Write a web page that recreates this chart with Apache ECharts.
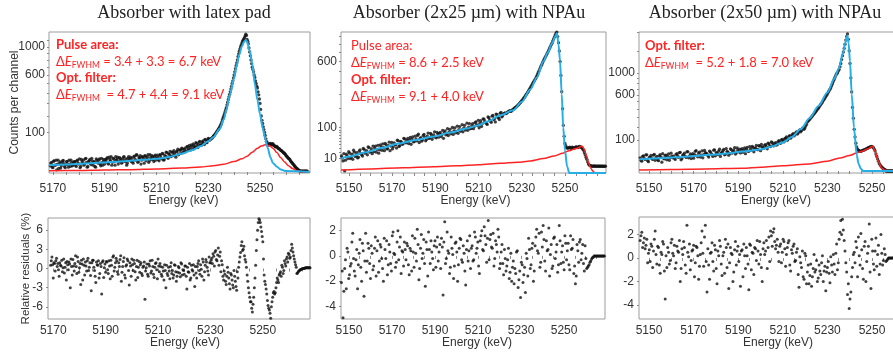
<!DOCTYPE html>
<html><head><meta charset="utf-8">
<script src="https://cdn.jsdelivr.net/npm/echarts@6/dist/echarts.min.js"></script>
<style>html,body{margin:0;padding:0;background:#fff}#c{width:893px;height:354px}</style>
</head><body><div id="c"></div>
<script>
// ---------- texts ----------
const panelTitles = ['Absorber with latex pad', 'Absorber (2x25 µm) with NPAu', 'Absorber (2x50 µm) with NPAu'];
const xLabelsP1 = [5170, 5190, 5210, 5230, 5250];
const xLabelsP2 = [5150, 5170, 5190, 5210, 5230, 5250];
const xLabelsP3 = [5150, 5170, 5190, 5210, 5230, 5250];
const yLabelsP1 = [100, 600, 1000];
const yLabelsP2 = [10, 100, 600];
const yLabelsP3 = [100, 600, 1000];
const yLabelsR1 = [-6, -3, 0, 3, 6];
const yLabelsR2 = [-4, -2, 0, 2];
const yLabelsR3 = [-4, -2, 0, 2];

// ---------- panel 1 : latex pad (channels from 5169 keV and 5169.25 keV, 0.5 keV apart) ----------
const p1E0 = 5169, p1Step = 0.5;
const p1Counts = [
2.5,6,1.2,8,3,0.3,9,4.5,1,5.5,8.5,2,3.5,7,1.5,4,9,2.5,6,
7,2,9,4,1.2,10,5,3,11,6,2,8,4.5,12,3,7,1.5,9,5,11,2.5,6,10,4,
8,13,4,10,15,6,11,3,9,14,7,12,5,10,15,7,3,12,9,14,
12,5,16,9,18,7,13,4,15,11,17,8,14,6,19,10,15,7,18,12,
14,8,18,11,21,10,16,24,12,20,15,26,17,23,14,28,19,31,22,34,
24,36,28,42,30,38,47,33,44,40,52,38,57,46,50,62,48,66,55,72,
64,70,74,82,88,98,108,118,130,148,175,200,230,265,310,360,410,470,530,600,
680,760,850,930,1000,1060,1110,1150,1210,1120,
1050,920,800,700,640,570,500,450,380,300,
200,150,115,85,60,50,48,52,46,50,
44,40,42,36,34,30,28,24,22,18,
15,12,10,7,5,3.5,2,1,0.5,0.2,
0.05,0.05,0.05,0.05,0.05,0.05];
const p1CountsB = [
5,1.5,7.5,3,9,4,0.8,6.5,2.5,8,4.5,1.2,7,3.5,8.8,2,5.5,3,7,
3,8,5,11,2,6.5,9,4,12,1.5,7,10,3.5,8,5.5,2,11,6,9,4,12,3,7.5,10,
11,5,14,8,3,12,7,15,10,4,13,9,6,14,8,11,5,15,10,7,
7,15,10,19,6,13,17,9,14,5,16,11,19,8,13,17,10,15,9,18,
10,19,13,22,9,17,25,14,21,27,16,24,29,18,26,33,21,30,36,25,
32,26,40,34,45,31,42,50,37,55,43,48,60,45,58,52,68,56,63,70,
67,72,78,85,93,103,113,124,140,160,188,215,248,288,335,385,440,500,565,640,
720,800,890,965,1030,1090,1130,1180,1190,1090,
980,860,750,670,600,530,470,410,340,250,
170,130,100,70,55,46,50,49,51,47,
43,41,38,35,32,29,26,23,20,16,
13,11,8,6,4,2.5,1.5,0.8,0.3,0.1,
0.05,0.05,0.05,0.05,0.05,0.05];
const p1Resid = [
0.5,1.8,-1.5,0.8,1.2,0.3,-0.2,0.9,0.4,-0.5,1.5,0.2,-1.8,0.6,1.0,-3.0,0.3,1.4,-0.4,
2.0,-0.8,1.1,0.1,-2.5,0.7,1.5,-1.0,0.4,1.2,-0.3,0.9,-3.5,1.3,0.2,-1.2,1.0,0.5,-1.5,0.8,-4.0,1.2,0.1,-0.6,
1.0,-0.8,0.4,1.3,-1.2,2.0,0.2,1.6,-0.5,0.9,1.4,-2.0,0.3,1.7,-1.5,0.6,1.2,-2.6,0.4,1.5,
-0.3,0.8,-1.8,1.3,0.2,-0.6,0.9,-1.1,0.4,-4.8,0.1,-0.9,0.7,1.2,-0.4,0.3,-1.4,0.8,-0.2,1.5,
-0.5,0.3,-1.2,-0.4,0.6,-3.0,-0.8,0.2,-1.6,0.9,-0.3,-1.0,0.5,-2.0,-0.6,0.1,-1.3,0.7,-0.2,-0.9,
0.4,-3.2,-0.5,0.8,-1.5,-0.2,0.6,-2.8,-0.7,0.3,1.2,-0.9,-0.1,1.5,-1.8,0.5,1.0,-0.4,1.8,0.9,
1.6,2.3,0.4,2.8,1.2,3.2,1.9,-0.5,0.6,-1.8,-0.9,-2.5,0.2,-1.5,-3.2,-1.0,-2.6,-0.3,-2.0,-3.4,
-1.5,1.0,2.5,4.2,3.0,2.0,1.0,-1.0,-3.0,-4.5,
-5.2,-6.8,-4.5,-1.5,2.8,6.0,7.8,7.2,5.8,4.2,
-1.0,-2.5,-4.0,-5.8,-6.5,-7.8,-5.2,-3.8,-4.0,-3.0,
-1.5,-2.2,-0.8,-1.2,0.2,-0.3,0.8,1.5,1.0,2.2,
1.8,3.8,2.6,1.5,0.6,-0.8,-0.5,-0.3,-0.15,-0.05,
0.0,0.05,0.1,0.1,0.1,0.1];
const p1ResidB = [
1.2,0.6,0.9,-0.4,1.6,0.8,-1.2,0.5,1.3,0.1,-0.7,0.9,1.1,-0.2,0.7,1.5,-1.0,0.4,0.8,
0.3,1.8,-0.6,0.8,1.3,-1.8,0.5,1.0,-0.4,1.6,0.2,-1.1,0.9,1.3,-0.3,-2.2,0.6,1.2,-0.8,0.3,1.0,-1.4,0.7,1.1,
-0.2,1.2,-1.6,0.5,1.8,-0.4,0.9,1.2,-0.9,0.3,2.0,-0.6,1.1,-1.0,0.4,1.5,-0.3,0.9,-1.2,0.6,
1.3,-0.5,0.3,-1.4,1.1,0.6,-0.8,0.2,1.0,-0.4,0.7,-1.2,0.4,-0.7,1.3,-0.9,0.2,0.9,-1.6,0.4,
0.8,-0.9,0.2,-1.8,-0.3,0.5,-1.1,-0.4,0.3,-0.8,-1.5,0.6,-0.5,-1.2,0.3,-0.7,0.9,-1.0,-0.3,0.4,
-1.2,0.2,-0.6,-1.8,0.5,-0.4,-1.0,0.3,-1.5,0.8,-0.3,0.6,-1.2,1.0,-0.5,1.4,0.2,-1.0,0.9,1.3,
0.8,1.9,2.6,1.4,2.1,0.5,2.6,1.2,-1.2,-0.4,-2.0,-1.2,-0.6,-2.4,-0.8,-1.8,-3.0,-1.2,-2.8,-0.5,
0.2,1.8,3.6,2.8,3.5,1.4,0.2,-2.0,-3.8,-5.2,
-6.2,-5.6,-3.0,0.5,4.5,7.2,7.6,6.5,5.0,1.5,
-2.0,-3.2,-5.0,-6.2,-7.0,-6.0,-4.5,-3.6,-3.8,-2.2,
-1.8,-1.0,-0.5,0.5,-0.8,1.2,0.4,1.8,2.4,1.6,
2.8,3.2,2.0,1.0,0.2,-0.7,-0.4,-0.2,-0.1,0.0,
0.05,0.1,0.1,0.1,0.1,0.1];
const p1Blue = [[5168.5,3.1],[5175,3.6],[5180,4.2],[5185,5.0],[5190,5.8],[5195,6.8],[5200,8.0],[5205,9.4],[5210,11],[5215,14.5],[5220,22],[5224,31],[5227,42],[5230,60],[5232,78],[5234.5,120],[5236,175],[5237,245],[5238.3,381],[5240,560],[5241,730],[5242,880],[5243,1010],[5244,1090],[5244.6,1110],[5245,1080],[5246,940],[5247,750],[5248,490],[5249,330],[5250,215],[5251,125],[5252,72],[5253,36],[5254,14],[5255,5],[5256.5,1.8],[5258,0.4],[5260,0.05],[5269.3,0]];
const p1Red = [[5168.5,0.1],[5180,0.15],[5190,0.25],[5200,0.35],[5210,0.6],[5220,1.0],[5227,1.6],[5232,2.5],[5236,3.8],[5240,7],[5243,11],[5245,16],[5247,25],[5249,36],[5250.5,43],[5252,47],[5253.5,45],[5255,36],[5256.5,24],[5258,13],[5259.5,6.5],[5261,2.5],[5262.5,0.8],[5264,0.15],[5266,0],[5269.3,0]];

// ---------- panel 2 : 2x25 um NPAu (channels from 5146.5 keV and 5146.875 keV, 0.75 keV apart) ----------
const p2E0 = 5146.5, p2Step = 0.75;
const p2Counts = [
14,7,0.2,17,10,19,12,9,21,15,11,23,18,14,27,20,16,31,22,18,
22,35,27,19,38,25,31,42,28,36,24,45,33,40,30,50,36,47,41,56,
44,58,51,40,63,48,56,68,45,60,53,72,50,66,58,76,55,70,62,80,
62,80,70,58,86,74,68,92,79,72,98,84,76,104,90,82,110,94,88,118,
96,118,104,126,110,99,132,118,140,124,114,148,130,156,138,126,164,146,172,152,
168,175,172,182,188,186,196,205,212,222,235,248,262,278,296,315,338,360,386,410,
435,470,505,545,580,620,655,690,730,775,815,870,920,960,820,600,320,110,42,31,
30,32,29,31,30,33,31,34,32,28,20,12,6,3,2.5,2.2,2.4,2.2,2.3,2.2,
2.2,2.3,2.1,2.2];
const p2CountsB = [
11,18,8,14,22,10,17,25,13,20,12,26,16,29,19,24,33,21,28,35,
30,21,37,26,33,41,24,39,29,46,35,28,44,38,52,34,48,40,58,45,
52,42,61,55,47,66,50,73,57,49,68,61,54,77,59,71,64,82,60,74,
75,64,88,79,70,95,82,74,100,86,78,106,91,84,113,97,89,120,102,95,
108,95,122,112,134,120,105,142,128,118,152,136,124,160,144,168,150,138,178,158,
172,170,179,185,183,192,200,208,217,228,241,255,270,287,305,326,349,373,398,422,
452,488,525,562,600,637,672,710,752,795,842,895,945,900,720,460,200,65,36,30,
31,30,32,30,32,32,33,33,30,25,16,9,4,2.8,2.3,2.3,2.2,2.3,2.2,2.3,
2.2,2.2,2.3,2.2];
const p2Resid = [
-2.1,-4.9,-1.0,-2.6,0.3,-1.5,-0.6,1.8,-1.2,-0.3,-2.6,0.2,-0.9,1.0,-3.2,1.8,-0.4,0.6,-1.8,0.2,
-0.8,1.5,0.4,-1.3,0.9,-0.2,-2.0,0.5,1.2,-0.7,0.3,-1.2,1.9,0.1,-0.5,2.0,0.7,-1.4,0.3,1.1,
-0.3,0.8,-1.5,0.4,1.6,-0.9,0.2,2.1,-1.9,0.6,-0.2,1.3,-2.4,0.5,1.9,-0.6,0.3,-1.1,1.2,0.7,
-0.4,0.9,1.4,-3.1,2.7,-0.2,0.4,-1.4,1.5,0.1,-0.8,1.1,-2.0,0.6,1.3,-0.5,0.2,-2.3,1.2,0.4,
-1.0,0.8,-0.3,1.5,0.6,-0.8,1.2,2.0,0.4,1.6,-0.5,2.8,1.3,0.7,1.8,-0.2,0.9,2.1,-1.0,0.3,
-0.6,0.5,-1.2,-0.3,-1.8,0.2,-0.9,-2.2,-1.4,0.4,-1.9,-3.3,-0.7,-1.5,-2.9,-0.2,1.4,-1.0,0.6,-2.0,
0.8,2.1,0.2,-0.9,1.9,2.4,-0.4,1.2,0.5,-1.6,0.9,-0.8,1.5,0.3,-1.3,2.4,-0.6,0.8,-1.1,1.0,
0.4,-0.7,1.6,0.6,-1.4,-2.2,0.9,-0.5,1.3,0.2,-0.6,0.8,-1.0,-0.8,-0.5,-0.25,-0.1,0.0,0.0,0.0,
0.0,0.0,0.0,0.0];
const p2ResidB = [
-1.2,-2.8,-0.3,0.6,-1.8,-0.8,1.1,-0.2,-1.6,0.5,-0.7,1.3,-2.0,0.4,-0.4,-1.3,1.0,-0.6,0.8,-1.1,
0.6,-1.6,1.2,-0.4,0.7,-1.0,1.4,-0.2,-1.5,0.9,-0.6,1.6,0.2,-0.9,1.1,-0.3,1.5,0.4,-0.8,0.5,
1.0,-0.7,0.6,-1.2,0.3,1.4,-0.4,0.9,-1.0,1.7,0.2,-0.6,1.1,-1.6,0.5,1.2,-0.2,0.8,-0.9,1.5,
0.3,-1.0,0.7,1.1,-0.6,1.9,0.2,-0.9,0.6,-1.8,1.0,0.3,-0.7,1.4,-0.3,0.8,-1.2,0.5,-0.4,1.6,
0.6,-0.4,1.9,0.2,1.1,-1.4,1.6,0.5,2.3,0.9,1.4,-0.3,1.7,0.6,-0.8,1.2,0.3,1.5,-0.6,0.9,
-1.5,-0.2,-0.8,0.6,-1.3,-2.0,-0.4,-1.0,0.3,-2.5,-1.2,-0.5,-2.1,-0.9,0.2,-1.6,0.5,-0.7,1.0,-1.2,
1.5,0.4,1.8,-0.5,0.7,1.3,-1.2,0.4,2.2,0.1,-1.0,1.4,-0.2,0.9,-0.7,1.2,0.3,-0.5,1.6,-0.3,
1.0,-1.1,0.5,1.3,-0.8,-1.6,0.4,1.1,-0.3,0.9,-1.2,-0.2,-0.9,-0.7,-0.4,-0.15,0.0,0.0,0.0,0.0,
0.0,0.0,0.0,0.0];
const p2Blue = [[5146.3,10],[5150,13],[5158,21],[5165,30],[5173,42],[5181,53],[5189,64],[5197,79],[5204.5,96],[5210,110],[5214,128],[5220,160],[5226,190],[5230,245],[5234,340],[5237,440],[5240,600],[5242,700],[5244,810],[5245.5,900],[5246.3,945],[5247,800],[5247.7,610],[5248.5,300],[5249.2,100],[5250,25],[5251,2],[5252,0],[5269,0]];
const p2Red = [[5146.3,0.4],[5160,0.8],[5175,1.3],[5189,1.9],[5200,2.5],[5210,3.3],[5220,4.5],[5228,5.5],[5234,7],[5240,10],[5245,14],[5249,19],[5252,24],[5255,29],[5258,34.5],[5259,27],[5260,14],[5261,4.5],[5262,1],[5263,0.14],[5264,0],[5269,0]];

// ---------- panel 3 : 2x50 um NPAu (channels from 5146 keV and 5146.375 keV, 0.75 keV apart) ----------
const p3E0 = 5146, p3Step = 0.75;
const p3Counts = [
18,10,24,14,27,9,20,16,26,12,22,11,28,8,17,25,13,30,19,23,
23,14,31,19,36,16,27,22,38,18,30,25,17,40,24,33,20,42,28,35,
30,20,38,27,45,24,34,41,22,36,48,29,40,26,51,33,44,30,55,38,
34,52,44,31,58,40,50,63,38,55,48,67,43,60,54,72,51,78,62,84,
66,84,72,95,80,104,88,112,98,124,112,138,128,150,142,166,160,186,180,210,
250,270,292,315,340,365,395,425,460,495,535,575,620,670,720,790,870,950,1000,1070,
1200,1380,1560,1780,1950,1500,900,420,180,80,50,42,40,44,46,50,54,58,62,60,
50,30,15,6,2.5,1,0.3,0,0,0,0,0];
const p3CountsB = [
12,22,16,27,11,19,25,14,29,18,13,24,20,31,15,26,21,12,33,18,
17,29,24,35,13,26,33,19,39,23,16,31,28,43,21,37,26,18,44,32,
25,41,31,22,46,35,28,49,33,43,27,52,37,31,47,40,56,34,45,50,
46,36,55,49,41,62,45,58,52,68,47,64,74,56,69,61,80,66,88,72,
78,70,90,84,100,94,108,120,106,130,122,144,136,158,150,175,170,196,192,225,
260,281,303,328,352,380,410,442,477,515,555,597,645,695,755,830,910,985,1040,1130,
1290,1470,1670,1880,1800,1200,650,290,120,60,45,41,42,45,48,52,56,60,63,56,
42,22,10,4,1.5,0.6,0.2,0,0,0,0,0];
const p3Resid = [
1.5,2.2,1.3,0.8,1.6,0.4,-0.3,1.0,0.6,2.3,-0.5,0.9,-1.3,0.3,1.2,-3.5,-0.8,0.5,-0.2,1.6,
0.2,-0.9,1.0,0.5,-2.0,0.8,1.4,-0.6,2.8,0.1,-1.0,0.6,1.1,-0.4,0.9,-1.8,0.3,2.3,-0.7,2.8,
-2.9,-0.6,0.4,1.3,-1.1,0.7,-2.2,0.2,1.0,-1.5,0.5,1.6,-0.8,-2.6,0.9,0.3,-1.2,1.4,0.6,-0.3,
-2.4,0.7,1.2,-0.9,0.2,-2.7,1.1,0.5,-1.4,0.8,1.5,-0.5,0.3,-2.0,1.3,0.6,-0.9,1.8,2.3,1.0,
2.5,0.8,1.6,-0.3,1.2,0.5,1.4,-0.7,0.9,1.5,-1.1,0.4,1.2,-0.2,0.8,-2.5,-0.4,0.6,-1.8,0.2,
-1.2,-2.2,-0.5,-1.6,0.3,-1.0,-2.0,-0.6,-1.4,0.2,-1.1,-2.8,-0.8,-1.3,0.1,-1.2,-0.5,0.4,-1.0,1.6,
3.2,3.3,1.5,-0.4,-3.1,-4.3,-2.9,-0.8,0.5,1.4,-1.6,0.2,2.1,-0.9,1.0,-2.0,0.4,2.9,-2.6,0.6,
-1.0,1.7,0.3,-1.4,2.0,-0.6,0.8,-0.3,-0.1,0.0,0.0,0.0];
const p3ResidB = [
1.9,0.9,1.7,1.1,-0.4,0.7,1.2,-0.8,1.6,0.3,1.0,-0.6,0.5,1.4,-1.1,0.2,0.9,-0.5,1.3,0.4,
1.1,-0.4,0.6,1.5,-0.9,0.3,0.9,-1.3,0.5,1.2,-0.2,0.7,-1.6,1.0,0.2,-0.7,1.3,0.4,1.8,-0.3,
0.8,-1.8,0.5,-0.3,1.1,-0.9,0.6,1.5,-0.5,0.2,-1.3,0.9,1.2,-0.4,0.4,-2.0,0.7,-0.6,1.0,0.3,
0.6,-1.6,0.2,0.9,-0.5,1.2,-1.0,0.4,0.9,-0.2,0.6,1.4,-0.8,0.8,0.3,1.5,0.9,-0.3,1.9,2.2,
1.4,1.1,0.5,1.0,-0.4,1.6,0.8,0.3,1.3,-0.6,0.7,1.0,-0.3,0.5,-1.4,0.1,-0.8,-1.6,0.4,-2.2,
-0.6,-1.5,-2.4,-0.9,-1.2,-0.2,-1.7,-1.1,-0.4,-2.0,-0.7,-1.2,-0.3,-2.1,-0.6,0.3,-1.4,1.2,-0.4,2.2,
2.0,2.4,0.6,-1.2,-2.2,-3.5,-1.6,0.3,-0.4,0.9,1.8,-0.6,0.7,-1.8,1.4,-0.3,1.0,-1.2,1.6,-0.5,
0.6,-0.7,1.1,-0.5,0.4,-0.2,0.3,-0.2,0.0,0.0,0.0,0.0];
const p3Blue = [[5145.5,14],[5155,17],[5162,19.5],[5170,23],[5177,27],[5185,32],[5192,39],[5200,48],[5205,62],[5210,85],[5214,120],[5218,180],[5222,290],[5226,440],[5230,640],[5233,880],[5235,1080],[5237,1450],[5238,1700],[5238.9,1900],[5239.5,1700],[5240.1,1250],[5240.9,610],[5241.9,195],[5243.1,28],[5244,5],[5245,0.5],[5246,0],[5260.3,0]];
const p3Red = [[5145.5,0.1],[5160,0.25],[5175,0.45],[5192,0.8],[5200,1.5],[5210,2.8],[5222,5.2],[5230,10],[5235.6,17.6],[5240,25],[5243.1,33.7],[5246,42],[5248,50],[5250.3,63],[5251.3,40],[5252.8,10],[5254.3,1],[5255.8,0.1],[5257,0],[5260.3,0]];

// ---------- helpers ----------
const FONT = 'Liberation Sans';
const RED = '#ff2424';
const BLUE = '#27aee6';
const chan = (e0, step, vals) => vals.map((v, i) => [Math.round((e0 + i * step) * 1000) / 1000, v]);
const sq = arr => arr.map(([e, c]) => [e, Math.sqrt(Math.max(c, 0))]);
const steps = (min, max, step) => { const a = []; for (let v = Math.ceil(min / step) * step; v <= max + 1e-9; v += step) a.push(v); return a; };

const grids = [
  {left: 49, top: 32, width: 261, height: 141},
  {left: 341, top: 32, width: 265, height: 141},
  {left: 639, top: 32, width: 256, height: 141},
  {left: 48, top: 218, width: 262, height: 101},
  {left: 341, top: 218, width: 264, height: 101},
  {left: 639, top: 217, width: 256, height: 102}
].map(g => Object.assign(g, {show: true, borderColor: '#9c9c9c', borderWidth: 1, backgroundColor: 'transparent', containLabel: false, outerBoundsMode: 'none'}));

const xr = [[5168.5, 5269.3], [5146.3, 5269], [5145.5, 5260.3], [5168, 5268], [5146.3, 5269], [5145.5, 5260.3]];
const xl = [xLabelsP1, xLabelsP2, xLabelsP3, xLabelsP1, xLabelsP2, xLabelsP3];
const xNameShift = [8, 4, 18, 12, 8, 22];

const xAxis = xr.map((r, i) => ({
  gridIndex: i, type: 'value', min: r[0], max: r[1],
  axisLine: {show: false}, splitLine: {show: false},
  axisTick: {show: true, customValues: steps(r[0], r[1], 5), length: 3, lineStyle: {color: '#8a8a8a'}},
  axisLabel: {customValues: xl[i], formatter: v => String(Math.round(v)), color: '#333', fontFamily: FONT, fontSize: 12, margin: i < 3 ? 10 : 6},
  name: 'Energy (keV)', nameLocation: 'middle', nameGap: i < 3 ? 22 : 18, nameMoveOverlap: false,
  nameTextStyle: {color: '#333', fontFamily: FONT, fontSize: 12, padding: [0, 0, 0, xNameShift[i]]}
}));

const yTop = [[-0.25, 35.35], [0, 31.0], [-0.65, 44.8]];
const yTopLabels = [yLabelsP1, yLabelsP2, yLabelsP3];
const yTopTicks = [[100,200,300,400,500,600,700,800,900,1000,1100], [10,20,30,40,50,60,70,80,90,100,200,300,400,500,600,700,800,900], [100,200,300,400,500,600,700,800,900,1000,1500,2000]];
const yBot = [[-7.9, 7.9], [-5, 3], [-5.2, 3.5]];
const yBotLabels = [yLabelsR1, yLabelsR2, yLabelsR3];

const yAxis = [];
yTop.forEach((r, i) => yAxis.push({
  gridIndex: i, type: 'value', min: r[0], max: r[1],
  axisLine: {show: false}, splitLine: {show: false},
  axisTick: {show: true, customValues: yTopTicks[i].map(Math.sqrt).filter(v => v <= r[1]), length: 2, lineStyle: {color: '#8a8a8a'}},
  axisLabel: {customValues: yTopLabels[i].map(Math.sqrt), formatter: v => String(Math.round(v * v)), color: '#333', fontFamily: FONT, fontSize: 12, margin: 4},
  name: i === 0 ? 'Counts per channel' : '', nameLocation: 'middle', nameRotate: 90, nameGap: 28, nameMoveOverlap: false,
  nameTextStyle: {color: '#333', fontFamily: FONT, fontSize: 12}
}));
yBot.forEach((r, i) => yAxis.push({
  gridIndex: i + 3, type: 'value', min: r[0], max: r[1],
  axisLine: {show: false}, splitLine: {show: false},
  axisTick: {show: true, customValues: yBotLabels[i], length: 2, lineStyle: {color: '#8a8a8a'}},
  axisLabel: {customValues: yBotLabels[i], color: '#333', fontFamily: FONT, fontSize: 12, margin: 5},
  name: i === 0 ? 'Relative residuals (%)' : '', nameLocation: 'middle', nameRotate: 90, nameGap: 16, nameMoveOverlap: false,
  nameTextStyle: {color: '#333', fontFamily: FONT, fontSize: 11.5}
}));

const line = (i, data, color, w) => ({type: 'line', xAxisIndex: i, yAxisIndex: i, data: sq(data), showSymbol: false, symbol: 'none', smooth: 0.3, smoothMonotone: 'x', lineStyle: {color, width: w}, silent: true, animation: false, clip: true});
const dots = (i, data, s) => ({type: 'scatter', xAxisIndex: i, yAxisIndex: i, data, symbol: 'circle', symbolSize: s, itemStyle: {color: '#111'}, silent: true, animation: false, clip: true});

const panels = [
  [p1E0, p1Step, p1Counts, p1CountsB, p1Blue, p1Red, p1Resid, p1ResidB],
  [p2E0, p2Step, p2Counts, p2CountsB, p2Blue, p2Red, p2Resid, p2ResidB],
  [p3E0, p3Step, p3Counts, p3CountsB, p3Blue, p3Red, p3Resid, p3ResidB]
];
const series = [];
panels.forEach(([e0, st, cA, cB, blue, red, rA, rB], i) => {
  const e1 = e0 + st / 2;
  series.push(line(i, red, RED, 1.5));
  series.push(dots(i, sq(chan(e0, st, cA).concat(chan(e1, st, cB))), 3.3));
  series.push(line(i, blue, BLUE, 2));
  series.push(dots(i + 3, chan(e0, st, rA).concat(chan(e1, st, rB)), 3));
});

// annotation rich styles
const mk = lh => ({
  b: {fontFamily: 'Lato', fontWeight: 'bold', fontSize: 13, color: RED, lineHeight: lh},
  n: {fontFamily: 'Lato', fontWeight: 'normal', fontSize: 13, color: RED, lineHeight: lh},
  e: {fontFamily: 'Lato', fontWeight: 'normal', fontStyle: 'italic', fontSize: 13, color: RED, lineHeight: lh},
  s: {fontFamily: 'Lato', fontWeight: 'normal', fontSize: 8.5, color: RED, lineHeight: 11, verticalAlign: 'bottom'}
});
const ts = lh => ({fontWeight: 'normal', fontFamily: 'Lato', fontSize: 13, color: RED, rich: mk(lh)});

const title = [
  {text: '{b|Pulse area:}\n{n|Δ}{e|E}{s|FWHM}{n| = 3.4 + 3.3 = 6.7 keV}\n{b|Opt. filter:}\n{n|Δ}{e|E}{s|FWHM}{n|  = 4.7 + 4.4 = 9.1 keV}', left: 56, top: 37, padding: 0, textStyle: ts(16.5)},
  {text: '{n|Pulse area:}\n{n|Δ}{e|E}{s|FWHM}{n| = 8.6 + 2.5 keV}\n{b|Opt. filter:}\n{n|Δ}{e|E}{s|FWHM}{n| = 9.1 + 4.0 keV}', left: 351, top: 37, padding: 0, textStyle: ts(17)},
  {text: '{b|Opt. filter:}\n{n|Δ}{e|E}{s|FWHM}{n|  = 5.2 + 1.8 = 7.0 keV}', left: 645, top: 38, padding: 0, textStyle: ts(16.5)}
];

const titleX = [184, 469, 765];
const graphic = panelTitles.map((t, i) => ({
  type: 'text', x: titleX[i], y: 13, silent: true,
  style: {text: t, fill: '#222', font: '18px "Liberation Serif"', align: 'center', verticalAlign: 'middle'}
}));

const chart = echarts.init(document.getElementById('c'), null, {renderer: 'canvas'});
chart.setOption({animation: false, backgroundColor: '#fff', title, graphic, grid: grids, xAxis, yAxis, series});
</script></body></html>
